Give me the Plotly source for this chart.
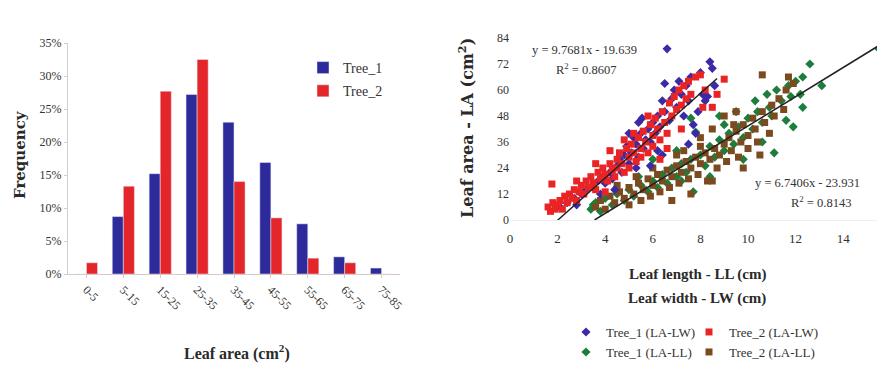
import plotly.graph_objects as go

# ---------------- Data: histogram (left) ----------------
categories = ["0-5", "5-15", "15-25", "25-35", "35-45", "45-55", "55-65", "65-75", "75-85"]
tree1_freq = [0.0, 0.087, 0.152, 0.272, 0.230, 0.169, 0.076, 0.026, 0.009]
tree2_freq = [0.017, 0.133, 0.277, 0.325, 0.140, 0.085, 0.024, 0.017, 0.0]
freq_ticks = [0, 0.05, 0.10, 0.15, 0.20, 0.25, 0.30, 0.35]
freq_ticklabels = ["0%", "5%", "10%", "15%", "20%", "25%", "30%", "35%"]

# ---------------- Data: scatter (right) ----------------
t1_lw = [(2.1,6),(2.4,8),(2.7,10),(3.0,12),(3.2,14),(3.5,15),(3.7,18),(3.9,20),(4.0,17),(4.2,22),
         (4.3,19),(4.5,25),(4.6,28),(4.7,22),(4.8,30),(4.9,34),(5.0,26),(5.1,31),(5.2,38),(5.3,35),
         (5.4,29),(5.5,40),(5.55,47),(5.6,33),(5.7,37),(5.8,42),(5.9,36),(6.0,45),(6.1,40),(6.2,48),
         (6.3,43),(6.4,55),(6.5,50),(6.5,63),(6.6,79),(6.7,46),(6.8,56),(6.9,60),(7.0,52),(7.1,64),
         (7.2,58),(7.3,48),(7.4,62),(7.5,55),(7.6,66),(7.7,44),(7.8,40),(7.9,50),(8.0,68),(8.1,58),
         (8.2,55),(8.3,57),(8.4,73),(8.5,70),(8.6,62),(7.5,35),(6.4,30),(5.9,25),(5.3,24),(3.8,12),
         (4.4,14),(2.8,7),(5.0,40),(5.4,45),(6.2,32)]
t2_lw = [(1.6,6),(1.7,4),(1.8,8),(1.76,16.6),(1.9,5),(2.0,7),(2.1,9),(2.2,5),(2.3,11),(2.4,8),
         (2.5,12),(2.6,10),(2.7,14),(2.8,9),(2.9,13),(3.0,16),(3.1,12),(3.2,18),(3.3,15),(3.4,20),
         (3.5,17),(3.6,14),(3.7,22),(3.8,19),(3.9,24),(4.0,21),(4.1,18),(4.2,26),(4.3,23),(4.4,20),
         (4.5,28),(4.5,24),(4.6,31),(4.7,26),(4.8,22),(4.9,33),(5.0,29),(5.0,24),(5.1,35),(5.2,31),
         (5.3,27),(5.4,38),(5.5,33),(5.5,29),(5.6,41),(5.7,36),(5.8,31),(5.9,44),(6.0,39),(6.0,34),
         (6.1,47),(6.2,42),(6.3,37),(6.4,50),(6.5,45),(6.6,40),(6.7,54),(6.8,48),(6.9,57),(7.0,51),
         (7.1,60),(7.2,53),(7.3,62),(7.4,56),(7.5,64),(7.6,58),(7.8,66),(8.0,67),(8.1,52),(8.2,60),
         (8.5,52),(8.7,58),(9.0,65),(4.2,32),(3.6,26),(5.2,40),(6.3,28),(5.8,48),(2.8,18),(4.0,13),
         (4.8,37),(6.6,33),(7.2,42)]
t1_ll = [(3.4,5),(3.5,7),(3.6,8),(3.8,4),(4.0,10),(4.3,7),(4.5,12),(4.8,9),(5.0,14),(5.2,11),
         (5.5,16),(5.8,13),(6.0,18),(6.2,15),(6.4,21),(6.6,17),(6.8,24),(7.0,20),(7.0,32),(7.2,26),
         (7.4,22),(7.6,28),(7.7,13),(7.8,40.6),(7.6,47),(8.0,30),(8.2,25),(8.4,34),(8.6,29),(8.8,37),
         (9.0,32),(9.0,44),(9.2,40),(9.4,35),(9.5,50),(9.6,43),(9.8,38),(10.0,47),(10.2,42),(10.3,55),
         (10.4,50),(10.6,45),(10.8,58),(10.9,52),(11.0,48),(11.2,60),(11.1,31),(11.4,55),(11.6,46),
         (11.7,62),(11.8,57),(12.0,64),(11.9,43),(12.2,58),(12.3,66),(12.6,72),(13.1,62),(15.5,79),
         (8.4,20),(9.8,28),(6.0,28),(5.4,20),(10.6,36),(8.8,48),(12.3,52),(7.2,18)]
t2_ll = [(3.6,6),(3.8,9),(4.0,5),(4.2,11),(4.4,8),(4.6,13),(4.8,10),(5.0,15),(5.0,7),(5.2,12),
         (5.4,17),(5.5,9),(5.6,14),(5.8,19),(5.9,11),(6.0,16),(6.2,21),(6.3,13),(6.4,18),(6.6,23),
         (6.7,15),(6.8,20),(7.0,25),(7.1,17),(7.2,22),(7.4,27),(7.5,19),(7.6,24),(7.8,29),(7.9,21),
         (8.0,26),(8.2,31),(8.3,18),(8.4,28),(8.6,33),(8.7,24),(8.8,30),(9.0,35),(9.1,27),(9.2,38),
         (9.3,32),(9.5,41),(9.6,29),(9.7,36),(9.8,44),(10.0,39),(10.0,33),(10.2,47),(10.3,42),(10.4,36),
         (10.6,50),(10.7,45),(10.6,67),(10.9,40),(11.0,53),(11.1,48),(11.3,56),(11.5,51),(11.6,60),
         (11.7,66),(11.9,63),(8.5,42),(9.0,48),(9.5,50),(7.0,30),(6.0,24),(5.3,20),(4.5,16),(8.0,34),
         (9.8,24),(6.8,9),(7.6,12),(8.5,18),(8.0,38),(9.4,44),(10.5,30),(7.3,32)]

trend_lw_x = [2.0, 8.7]
trend_lw_y = [-0.1, 65.3]
trend_ll_x = [3.55, 15.5]
trend_ll_y = [0.0, 80.5]

x_ticks = [0, 2, 4, 6, 8, 10, 12, 14]
x_last_tick = "16"          # tick label cut by the right edge
y_ticks = [0, 12, 24, 36, 48, 60, 72, 84]

SERIF = "Liberation Serif"
TXT = "#333333"
OFF = 8                      # page body margin
W, H = 885 - OFF, 375 - OFF  # figure size so that figure fills window after the margin

def px(x):
    return (x - OFF) / W

def py(y):
    return 1 - (y - OFF) / H

X2_PER_UNIT = 23.8
X2_MAX = (885 - 510) / X2_PER_UNIT

fig = go.Figure()

fig.add_trace(go.Bar(x=categories, y=tree1_freq, name="Tree_1", marker_color="#2d2a9b",
                     xaxis="x", yaxis="y", legend="legend", legendgroup="a"))
fig.add_trace(go.Bar(x=categories, y=tree2_freq, name="Tree_2", marker_color="#e4262b",
                     xaxis="x", yaxis="y", legend="legend", legendgroup="b"))

def add_sc(pts, name, color, symbol, leg):
    fig.add_trace(go.Scatter(x=[p[0] for p in pts], y=[p[1] for p in pts], mode="markers",
                             name=name, marker=dict(color=color, symbol=symbol, size=7,
                                                    line=dict(width=0)),
                             xaxis="x2", yaxis="y2", legend=leg))

add_sc(t1_ll, "Tree_1 (LA-LL)", "#1c7d3c", "diamond", "legend4")
add_sc(t2_ll, "Tree_2 (LA-LL)", "#7b4a1f", "square", "legend5")
add_sc(t1_lw, "Tree_1 (LA-LW)", "#3a2aa6", "diamond", "legend2")
add_sc(t2_lw, "Tree_2 (LA-LW)", "#ea2424", "square", "legend3")

fig.add_trace(go.Scatter(x=trend_lw_x, y=trend_lw_y, mode="lines", line=dict(color="#222", width=1.5),
                         showlegend=False, xaxis="x2", yaxis="y2"))
fig.add_trace(go.Scatter(x=trend_ll_x, y=trend_ll_y, mode="lines", line=dict(color="#222", width=1.5),
                         showlegend=False, xaxis="x2", yaxis="y2"))

tickfont = dict(family=SERIF, size=12, color=TXT)
legfont = dict(family=SERIF, size=13, color=TXT)

def small_legend(xr, yr):
    return dict(x=px(xr), y=py(yr), xanchor="left", yanchor="top", font=legfont,
                bgcolor="rgba(0,0,0,0)", itemwidth=30)

fig.update_layout(
    width=W, height=H, margin=dict(l=0, r=0, t=0, b=0, pad=0, autoexpand=False),
    paper_bgcolor="white", plot_bgcolor="white",
    font=dict(family=SERIF, color=TXT),
    barmode="group", bargap=0.4, bargroupgap=0.0,
    xaxis=dict(domain=[px(68), px(400)], anchor="y", type="category",
               tickangle=45, tickfont=dict(family=SERIF, size=12, color=TXT), showgrid=False,
               showline=True, linecolor="#d8c8c8", linewidth=1,
               ticks="outside", ticklen=3, tickcolor="#d8c8c8", zeroline=False),
    yaxis=dict(domain=[py(274), py(43)], anchor="x", range=[0, 0.35],
               tickvals=freq_ticks, ticktext=freq_ticklabels, tickfont=tickfont,
               showgrid=False, showline=True, linecolor="#d0d0d0", linewidth=1,
               ticks="outside", ticklen=3, tickcolor="#d0d0d0", zeroline=False),
    xaxis2=dict(domain=[px(510), 1.0], anchor="y2", range=[0, X2_MAX],
                tickvals=x_ticks, tickfont=dict(family=SERIF, size=13, color=TXT),
                ticklabelstandoff=6,
                showgrid=False, showline=True, linecolor="#eeeeee", zeroline=False, ticks=""),
    yaxis2=dict(domain=[py(220), py(38)], anchor="x2", range=[0, 84],
                tickvals=y_ticks, tickfont=dict(family=SERIF, size=12, color=TXT),
                showgrid=False, showline=False, zeroline=False, ticks=""),
    legend=dict(x=px(303), y=py(52), xanchor="left", yanchor="top",
                font=dict(family=SERIF, size=14, color=TXT), bgcolor="rgba(0,0,0,0)",
                itemwidth=30, tracegroupgap=2),
    legend2=small_legend(566, 317),
    legend3=small_legend(689, 317),
    legend4=small_legend(566, 337),
    legend5=small_legend(689, 337),
    showlegend=True,
)

bold = dict(family=SERIF, size=15, color="#2a2a2a")
eqf = dict(family=SERIF, size=12.5, color=TXT)
ann = [
    dict(text="<b>Frequency</b>", x=px(20), y=py(155), textangle=-90,
         font=dict(family="DejaVu Serif", size=15, color="#2a2a2a")),
    dict(text="<b>Leaf area (cm<sup>2</sup>)</b>", x=px(237), y=py(352),
         font=dict(family=SERIF, size=16, color="#2a2a2a")),
    dict(text="<b>Leaf area - LA (cm<sup>2</sup>)</b>", x=px(466), y=py(128), textangle=-90,
         font=dict(family="DejaVu Serif", size=16, color="#2a2a2a")),
    dict(text="<b>Leaf length - LL (cm)</b>", x=px(697), y=py(274), font=bold),
    dict(text="<b>Leaf width - LW (cm)</b>", x=px(697), y=py(298), font=bold),
    dict(text="y = 9.7681x - 19.639", x=px(584), y=py(50), font=eqf),
    dict(text="R<sup>2</sup> = 0.8607", x=px(586), y=py(69), font=eqf),
    dict(text="y = 6.7406x - 23.931", x=px(753), y=py(183), xanchor="left", font=eqf),
    dict(text="R<sup>2</sup> = 0.8143", x=px(821), y=py(202), font=eqf),
    dict(text=x_last_tick, x=px(877), y=py(240), xanchor="left",
         font=dict(family=SERIF, size=13, color=TXT)),
]
for a in ann:
    a.setdefault("xanchor", "center")
    a.update(xref="paper", yref="paper", yanchor="middle", showarrow=False)
fig.update_layout(annotations=ann)

fig.write_html("out.html")
